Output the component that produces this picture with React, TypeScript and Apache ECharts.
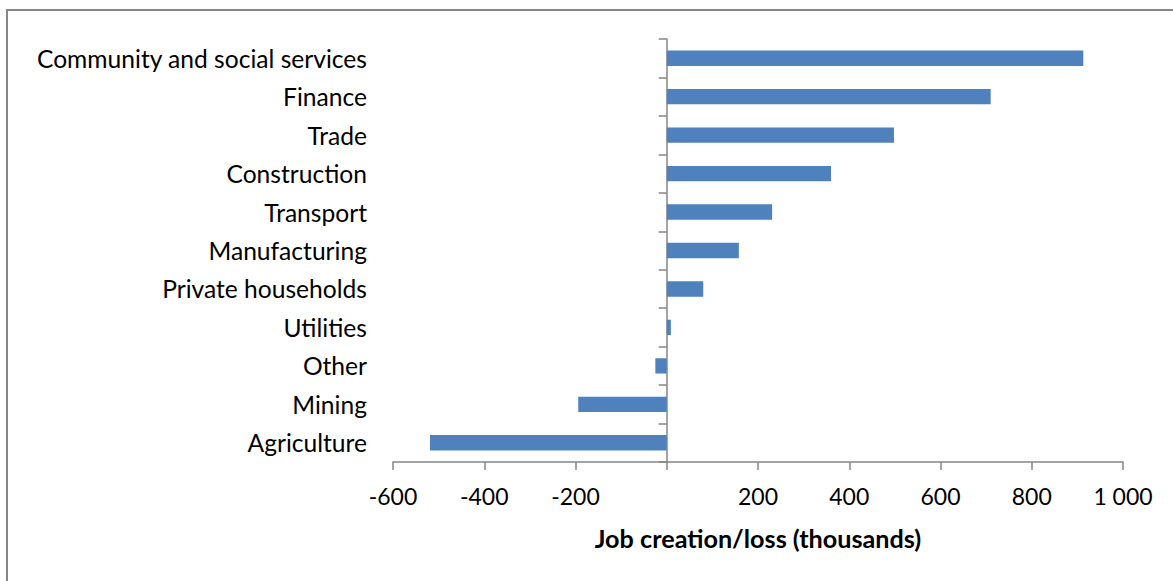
import React, { useEffect, useRef } from "react";
import * as echarts from "echarts";

const categories = [
  "Agriculture",
  "Mining",
  "Other",
  "Utilities",
  "Private households",
  "Manufacturing",
  "Transport",
  "Construction",
  "Trade",
  "Finance",
  "Community and social services",
];
const jobChange = [-519, -194, -25, 9, 80, 158, 231, 360, 498, 710, 913];
const xTicks = { min: -600, max: 1000, interval: 200 };
const axisTitle = "Job creation/loss (thousands)";

const FONT = "Lato, 'Open Sans', sans-serif";
const AXIS = "#868686";

export default function App() {
  const ref = useRef<HTMLDivElement>(null);
  useEffect(() => {
    const chart = echarts.init(ref.current!, null, { renderer: "svg" });
    chart.setOption({
      animation: false,
      backgroundColor: "#ffffff",
      graphic: [
        {
          type: "rect",
          shape: { x: 7, y: 10, width: 1200, height: 600 },
          style: { fill: "none", stroke: "#878787", lineWidth: 2 },
          silent: true,
        },
      ],
      grid: { left: 393, right: 50, top: 39, bottom: 119, containLabel: false },
      xAxis: {
        type: "value",
        min: xTicks.min,
        max: xTicks.max,
        interval: xTicks.interval,
        splitLine: { show: false },
        axisLine: { show: true, onZero: false, lineStyle: { color: AXIS, width: 1.5 } },
        axisTick: { show: true, length: 8, lineStyle: { color: AXIS, width: 1.5 } },
        axisLabel: {
          margin: 22,
          color: "#000",
          fontFamily: FONT,
          fontSize: 23,
          formatter: (v: number) =>
            v === 0 ? "" : v >= 1000 ? String(v).replace(/\B(?=(\d{3})+(?!\d))/g, " ") : String(v),
        },
        name: axisTitle,
        nameLocation: "middle",
        nameGap: 63,
        nameTextStyle: { color: "#000", fontFamily: FONT, fontSize: 25.2, fontWeight: "bold" },
      },
      yAxis: [
        {
          type: "category",
          data: categories,
          position: "left",
          axisLine: { show: false, onZero: false },
          axisTick: { show: false },
          axisLabel: { margin: 26, color: "#000", fontFamily: FONT, fontSize: 24.6 },
        },
        {
          type: "category",
          data: categories,
          position: "left",
          axisLine: { show: true, onZero: true, lineStyle: { color: AXIS, width: 1.5 } },
          axisTick: { show: true, length: 8, lineStyle: { color: AXIS, width: 1.5 } },
          axisLabel: { show: false },
        },
      ],
      series: [
        {
          type: "bar",
          data: jobChange,
          yAxisIndex: 0,
          barCategoryGap: "60%",
          itemStyle: { color: "#4F81BD" },
        },
      ],
    });
    return () => chart.dispose();
  }, []);
  return (
    <div
      ref={ref}
      style={{ position: "fixed", left: 0, top: 0, width: 1173, height: 581 }}
    />
  );
}
